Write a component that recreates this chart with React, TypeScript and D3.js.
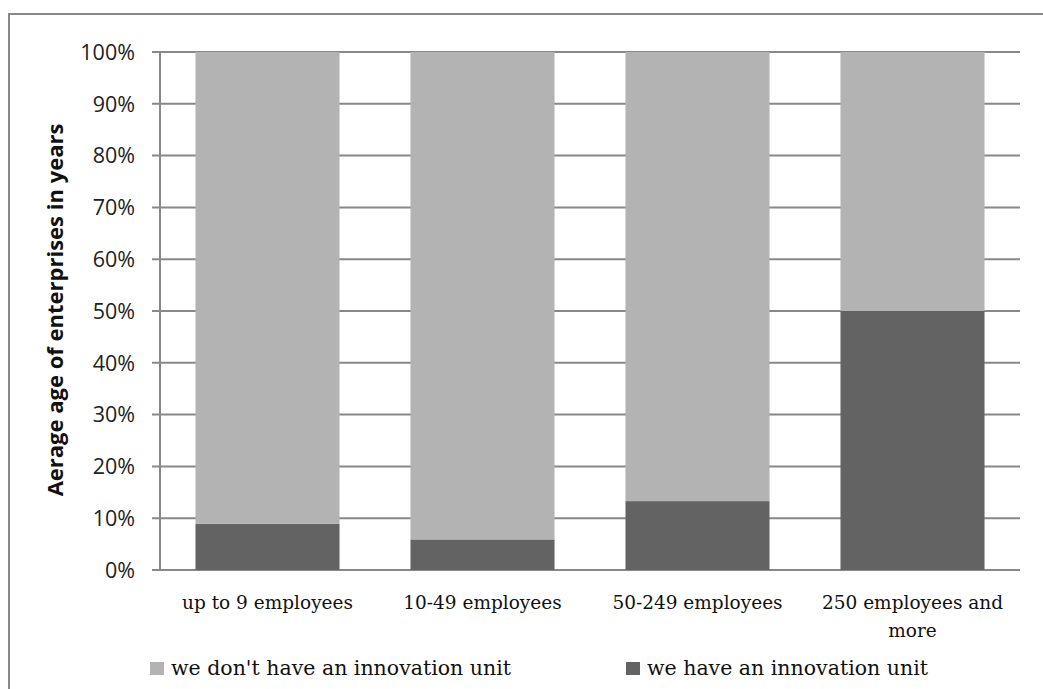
import React from "react";
import * as d3 from "d3";

const categories = ["up to 9 employees", "10-49 employees", "50-249 employees", "250 employees and more"];
const categoryLines = [["up to 9 employees"], ["10-49 employees"], ["50-249 employees"], ["250 employees and", "more"]];
const haveUnit = [8.9, 5.9, 13.3, 50.0];
const noUnit = [91.1, 94.1, 86.7, 50.0];
const seriesNames = ["we don't have an innovation unit", "we have an innovation unit"];
const yTicks = [0, 10, 20, 30, 40, 50, 60, 70, 80, 90, 100];
const yTitle = "Aerage age of enterprises in years";

const W = 1043;
const H = 689;
const LIGHT = "#b3b3b3";
const DARK = "#636363";
const GRID = "#888888";

export default function App() {
  const x = d3.scaleBand<string>().domain(categories).range([160, 1020]).paddingInner(0.33).paddingOuter(0.165);
  const y = d3.scaleLinear().domain([0, 100]).range([570, 52]);

  const rows = categories.map((c, i) => ({ cat: c, have: haveUnit[i], no: noUnit[i] }));
  const stack = d3.stack<any>().keys(["have", "no"])(rows);
  const colors = [DARK, LIGHT];

  return (
    <svg width={W} height={H} style={{ position: "absolute", left: 0, top: 0 }}>
      <rect x={0} y={0} width={W} height={H} fill="#fff" />
      <rect x={9} y={14} width={W + 20} height={H + 20} fill="none" stroke={GRID} strokeWidth={2} />
      {/* gridlines */}
      {yTicks.map((t) => (
        <line key={t} x1={152} x2={1020} y1={y(t)} y2={y(t)} stroke={GRID} strokeWidth={2} />
      ))}
      <line x1={160} x2={160} y1={y(100)} y2={y(0)} stroke={GRID} strokeWidth={2} />
      {/* stacked bars */}
      {stack.map((layer, li) =>
        layer.map((d, i) => (
          <rect
            key={`${li}-${i}`}
            x={x(categories[i])}
            width={x.bandwidth()}
            y={y(d[1])}
            height={y(d[0]) - y(d[1])}
            fill={colors[li]}
          />
        ))
      )}
      {/* y tick labels */}
      {yTicks.map((t) => (
        <text
          key={t}
          x={135}
          y={y(t)}
          dy="0.36em"
          textAnchor="end"
          fontFamily="'Open Sans', sans-serif"
          fontSize={21.5}
          fill="#222"
        >
          {t}%
        </text>
      ))}
      {/* y axis title */}
      <text
        transform={`translate(55,310) rotate(-90)`}
        textAnchor="middle"
        dy="0.35em"
        fontFamily="'Open Sans', sans-serif"
        fontWeight="bold"
        fontSize={22}
        fill="#111"
      >
        {yTitle}
      </text>
      {/* category labels */}
      {categoryLines.map((lines, i) => (
        <text
          key={i}
          textAnchor="middle"
          fontFamily="'DejaVu Serif', serif"
          fontSize={18.5}
          fill="#111"
        >
          {lines.map((ln, j) => (
            <tspan key={j} x={(x(categories[i]) as number) + x.bandwidth() / 2} y={609 + j * 28}>
              {ln}
            </tspan>
          ))}
        </text>
      ))}
      {/* legend */}
      {seriesNames.map((name, i) => {
        const lx = i === 0 ? 150 : 626;
        return (
          <g key={name}>
            <rect x={lx} y={662} width={14} height={13} fill={i === 0 ? LIGHT : DARK} />
            <text x={lx + 21} y={675} fontFamily="'DejaVu Serif', serif" fontSize={20.5} fill="#111">
              {name}
            </text>
          </g>
        );
      })}
    </svg>
  );
}
